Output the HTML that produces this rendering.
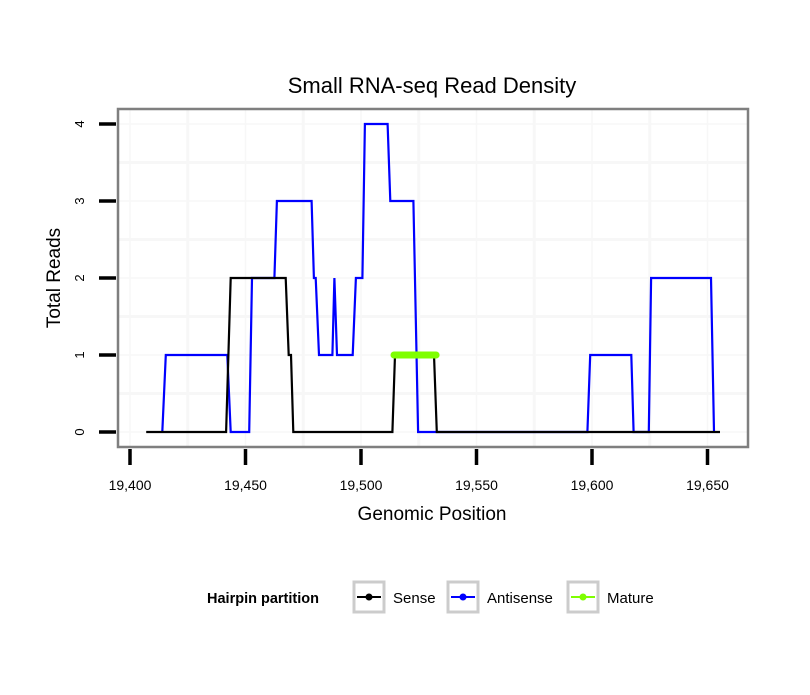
<!DOCTYPE html>
<html><head><meta charset="utf-8"><style>
body{margin:0;background:#fff;}
svg text{font-family:"Liberation Sans",sans-serif;}
</style></head><body>
<svg id="chart" width="810" height="690" xmlns="http://www.w3.org/2000/svg">
<rect width="810" height="690" fill="#fff"/>
<text x="432" y="93" font-size="22" text-anchor="middle">Small RNA-seq Read Density</text>
<g id="grid"></g>
<g id="series"></g>
<rect x="118" y="109" width="630" height="338" fill="none" stroke="#7f7f7f" stroke-width="2.5"/>
<g id="axes"></g>
<text x="432" y="520" font-size="19" text-anchor="middle">Genomic Position</text>
<text transform="translate(60,278) rotate(-90)" font-size="19" text-anchor="middle">Total Reads</text>
<g>
<text x="207" y="603" font-size="14.5" font-weight="bold">Hairpin partition</text>
<g>
<rect x="354" y="582" width="30" height="30" fill="#fff" stroke="#ccc" stroke-width="3"/>
<line x1="357" y1="597" x2="381" y2="597" stroke="#000" stroke-width="2"/><circle cx="369" cy="597" r="3.5" fill="#000"/>
<text x="393" y="603" font-size="15">Sense</text></g>
<g>
<rect x="448" y="582" width="30" height="30" fill="#fff" stroke="#ccc" stroke-width="3"/>
<line x1="451" y1="597" x2="475" y2="597" stroke="#00f" stroke-width="2"/><circle cx="463" cy="597" r="3.5" fill="#00f"/>
<text x="487" y="603" font-size="15">Antisense</text></g>
<g>
<rect x="568" y="582" width="30" height="30" fill="#fff" stroke="#ccc" stroke-width="3"/>
<line x1="571" y1="597" x2="595" y2="597" stroke="#7fff00" stroke-width="2"/><circle cx="583" cy="597" r="3.5" fill="#7fff00"/>
<text x="607" y="603" font-size="15">Mature</text></g>
</g>
</svg>
<script>
const xTicks=[19400,19450,19500,19550,19600,19650];
const xTickLabels=["19,400","19,450","19,500","19,550","19,600","19,650"];
const yTicks=[0,1,2,3,4];
const senseX=[19407,19441.6,19443.6,19467.4,19468.7,19469.7,19470.7,19513.6,19514.7,19531.6,19532.8,19655.4];
const senseY=[0,0,2,2,1,1,0,0,1,1,0,0];
const antiX=[19414,19415.5,19442.1,19443.6,19451.6,19452.8,19462.5,19463.6,19478.6,19479.6,19480.4,19481.8,19487.6,19488.5,19489.6,19496.4,19497.8,19500.6,19501.7,19511.5,19512.7,19522.7,19524.7,19598,19599.2,19617,19618,19624.6,19625.6,19651.5,19652.8];
const antiY=[0,1,1,0,0,2,2,3,3,2,2,1,1,2,1,1,2,2,4,4,3,3,0,0,1,1,0,0,2,2,0];
const matureX=[19514.3,19532.5];
const matureY=[1,1];
const sx=v=>130+(v-19400)*2.31;
const sy=v=>432-v*77;
const NS="http://www.w3.org/2000/svg";
function mk(tag,attrs,parent){const e=document.createElementNS(NS,tag);for(const k in attrs)e.setAttribute(k,attrs[k]);parent.appendChild(e);return e;}
const grid=document.getElementById('grid'),axes=document.getElementById('axes'),series=document.getElementById('series');
for(let i=0;i<xTicks.length;i++){
  const g1=mk('line',{x1:sx(xTicks[i]),x2:sx(xTicks[i]),y1:110,y2:446,stroke:'#f7f7f7','stroke-width':1.5},grid);
  
  
  const mx=sx(xTicks[i]+25);
  if(mx<746){
    const g2=mk('line',{x1:mx,x2:mx,y1:110,y2:446,stroke:'#f7f7f7','stroke-width':3},grid);
    
    
  }
  const t=mk('line',{x1:sx(xTicks[i]),x2:sx(xTicks[i]),y1:449,y2:465,stroke:'#000','stroke-width':3.5},axes);
  
  
  const l=mk('text',{x:sx(xTicks[i]),y:490,'font-size':14,'text-anchor':'middle'},axes);
  l.textContent=xTickLabels[i];
  
  
}
for(let i=0;i<yTicks.length;i++){
  const g1=mk('line',{x1:119,x2:747,y1:sy(yTicks[i]),y2:sy(yTicks[i]),stroke:'#f7f7f7','stroke-width':1.5},grid);
  
  
  if(i<yTicks.length-1){
    const g2=mk('line',{x1:119,x2:747,y1:sy(yTicks[i]+0.5),y2:sy(yTicks[i]+0.5),stroke:'#f7f7f7','stroke-width':3},grid);
    
    
  }
  const t=mk('line',{x1:99,x2:116,y1:sy(yTicks[i]),y2:sy(yTicks[i]),stroke:'#000','stroke-width':3.5},axes);
  
  
  const l=mk('text',{transform:`translate(84,${sy(yTicks[i])}) rotate(-90)`,'font-size':13,'text-anchor':'middle'},axes);
  l.textContent=String(yTicks[i]);
  
  
}
function pts(X,Y){return X.map((x,i)=>sx(x).toFixed(1)+','+sy(Y[i]).toFixed(1)).join(' ');}
const a=mk('polyline',{points:pts(antiX,antiY),fill:'none',stroke:'#00f','stroke-width':2.2},series);


const s=mk('polyline',{points:pts(senseX,senseY),fill:'none',stroke:'#000','stroke-width':2.2},series);


const m=mk('polyline',{points:pts(matureX,matureY),fill:'none',stroke:'#7fff00','stroke-width':7,'stroke-linecap':'round'},series);


</script>
</body></html>
